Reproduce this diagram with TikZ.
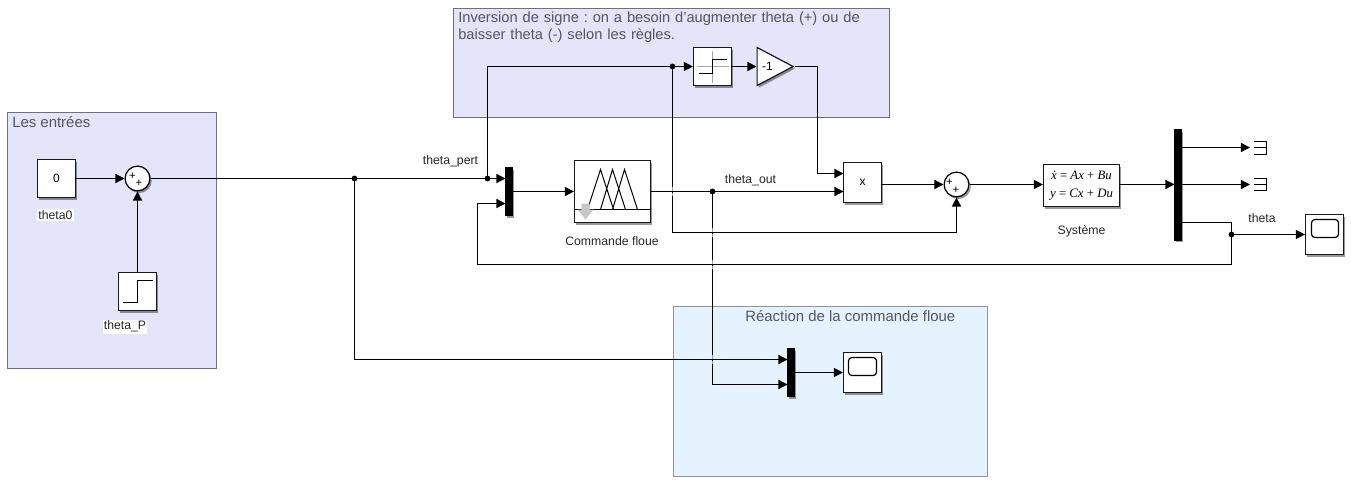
\documentclass[tikz,border=0pt]{standalone}
\usepackage{fontspec}
\setmainfont{Liberation Sans}
\newfontfamily\sysface{Liberation Serif}
\usetikzlibrary{arrows.meta,shadows,shapes.geometric,calc}
\definecolor{lav}{RGB}{228,228,251}
\definecolor{sky}{RGB}{228,243,255}
\definecolor{edgegrey}{RGB}{112,112,125}
\definecolor{edgeblue}{RGB}{140,150,160}
\definecolor{titlegrey}{RGB}{85,85,100}
\tikzset{
  panelbox/.style={draw=edgegrey,fill=lav,line width=0.9pt,inner sep=0pt},
  blockshadow/.style={drop shadow={shadow xshift=1.4pt,shadow yshift=-1.6pt,opacity=.4,fill=black}},
  blockbox/.style={draw=black!90,fill=white,line width=0.9pt,inner sep=0pt,blockshadow,font=\fontsize{9pt}{10pt}\selectfont},
  muxbar/.style={draw=black,fill=black,inner sep=0pt,minimum width=5.2pt,blockshadow},
  sumcircle/.style={circle,draw=black,fill=white,line width=0.9pt,inner sep=0pt,minimum size=18.6pt,blockshadow},
  wire/.style={draw=black,line width=0.9pt},
  arrowwire/.style={wire,-{Triangle[length=6.8pt,width=6.8pt]}},
  dotnode/.style={circle,fill=black,inner sep=0pt,minimum size=4.4pt},
  smalllabel/.style={font=\fontsize{9.2pt}{10pt}\selectfont,text=black!85,inner sep=1pt},
  paneltitle/.style={font=\fontsize{11.2pt}{12.8pt}\selectfont,text=titlegrey,inner sep=0pt},
  signmark/.style={font=\fontsize{8.5pt}{8.5pt}\selectfont,inner sep=0pt},
  glyphline/.style={draw=black,line width=0.9pt},
  fuzzyline/.style={draw=black,line width=0.75pt},
  axisline/.style={draw=black!35,line width=0.75pt},
  fadeline/.style={draw=white,line width=1.2pt,opacity=.6},
  wh/.style 2 args={minimum width=#1*0.75pt,minimum height=#2*0.75pt},
}
\frenchspacing
\begin{document}
\begin{tikzpicture}[x=0.75pt,y=-0.75pt]
\useasboundingbox (0,0) rectangle (1351,482);
\begin{scope}[shift={(0.5,0.5)}]
% panels
\draw[panelbox] (7,112) rectangle (216,368);
\draw[panelbox] (453,8) rectangle (889,117);
\draw[panelbox,draw=edgeblue,fill=sky] (673,306) rectangle (987,476);
\node[paneltitle,anchor=base west] (t1) at (11.5,127) {Les entrées};
\node[paneltitle,font=\fontsize{11pt}{12.8pt}\selectfont,anchor=north west,align=left,text width=420*0.75pt] (t2) at (457.5,11) {Inversion de signe : on a besoin d'augmenter theta (+) ou de\\baisser theta (-) selon les règles.};
\node[paneltitle,anchor=base west] (t3) at (744.5,321) {Réaction de la commande floue};

% blocks
\node[blockbox,wh={38}{38}] (const) at (56,178) {0};
\node[blockbox,wh={38}{38}] (step) at (137,291) {};
\node[sumcircle] (sumA) at (137,178) {};
\node[muxbar,minimum height=36pt] (muxA) at (508.5,191) {};
\node[blockbox,wh={76}{62}] (fuzzy) at (612,191) {};
\node[blockbox,wh={38}{38}] (sat) at (712,66) {};
\node[isosceles triangle,isosceles triangle stretches,draw=black!90,fill=white,line width=0.9pt,inner sep=0pt,minimum width=28.5pt,minimum height=27pt,blockshadow,anchor=lower side] (gain) at (756,66) {};
\node[blockbox,wh={38}{40}] (prod) at (862,182) {x};
\node[sumcircle] (sumB) at (956,184) {};
\node[blockbox,wh={76}{42},font=\sysface\fontsize{9.6pt}{13.5pt}\selectfont,align=center] (sys) at (1081,185) {\textit{\.x} = \textit{Ax} + \textit{Bu}\\\textit{y} = \textit{Cx} + \textit{Du}};
\node[muxbar,minimum height=83pt] (muxB) at (1177.5,184.5) {};
\node[blockbox,wh={38}{40}] (scopeA) at (1324,234) {};
\node[muxbar,minimum height=36pt] (muxC) at (790.5,372) {};
\node[blockbox,wh={38}{40}] (scopeB) at (862,372) {};
\node[signmark] (sumAp) at (132,176) {+};
\node[signmark] (sumAq) at (138.5,183) {+};
\node[signmark] (sumBp) at (949,182) {+};
\node[signmark] (sumBq) at (955.5,190) {+};

% terminators
\node[inner sep=0pt,minimum width=10.5pt,minimum height=10pt] (termA) at (1260,147) {};
\node[inner sep=0pt,minimum width=10.5pt,minimum height=10pt] (termB) at (1260,184) {};
\draw[glyphline] (1253,141) -| (1266,154) -- (1253,154) (1253,147) -- (1266,147);
\draw[glyphline] (1253,178) -| (1266,190) -- (1253,190) (1253,184) -- (1266,184);

% block glyphs
\draw[glyphline] (step.center) ++(-15,11) -- ++(15,0) -- ++(0,-22) -- ++(15,0);
\draw[axisline] (sat.center) ++(0,-16) -- ++(0,32) (sat.center) ++(-16,0) -- ++(32,0);
\draw[glyphline] (sat.center) ++(-14,7) -- ++(14,0) -- ++(0,-14) -- ++(14,0);
\draw[fuzzyline] (fuzzy.west |- 0,209) -- (fuzzy.east |- 0,209);
\draw[fuzzyline] (587,209) -- (600,169) -- (613,209) (600,209) -- (612,169) -- (625,209) (612,209) -- (624,169) -- (637,209);
\fill[black!22] (581,203) -- (589,203) -- (589,209) -- (593,209) -- (585,219) -- (577,209) -- (581,209) -- cycle;
\draw[black,line width=0.9pt,rounded corners=2.5pt] (1311,219) rectangle (1338,237);
\draw[black,line width=0.9pt,rounded corners=2.5pt] (848,357) rectangle (876,375);

% junctions and corners
\coordinate (pertTop) at (487,66);
\node[dotnode] (jInv) at (487,178) {};
\node[dotnode] (jMain) at (354,178) {};
\node[dotnode] (jSat) at (672,66) {};
\node[dotnode] (jOut) at (712,191) {};
\node[dotnode] (jTheta) at (1231,234) {};
\coordinate (muxAin2) at (505,203);
\coordinate (muxAin1) at (505,178);
\coordinate (prodIn1) at (843,173);
\coordinate (prodIn2) at (843,191);
\coordinate (muxCin1) at (787,359);
\coordinate (muxCin2) at (787,384);
\coordinate (sysOutR) at (1174,184);
\coordinate (muxBout1) at (1181,147);
\coordinate (muxBout2) at (1181,184);
\coordinate (muxBout3) at (1181,222);
\coordinate (termAin) at (1249.5,147);
\coordinate (termBin) at (1249.5,184);

% connectors
\draw[arrowwire] (const.east) -- (sumA.west);
\draw[arrowwire] (step.north) -- (sumA.south);
\draw[wire] (sumA.east) -- (jMain.center);
\draw[wire] (jMain.center) -- (jInv.center);
\draw[arrowwire] (jInv.center) -- (muxAin1);
\draw[wire] (jInv.center) -- (pertTop) -- (jSat.center);
\draw[arrowwire] (jSat.center) -- (sat.west);
\draw[arrowwire] (sat.east) -- (gain.lower side);
\draw[arrowwire] (gain.apex) -- (817,66) |- (prodIn1);
\draw[arrowwire] (muxA.east |- fuzzy.west) -- (fuzzy.west);
\draw[wire] (fuzzy.east) -- (jOut.center);
\draw[arrowwire] (jOut.center) -- (prodIn2);
\draw[arrowwire] (jOut.center) |- (muxCin2);
\draw[arrowwire] (jMain.center) |- (muxCin1);
\draw[arrowwire] (jSat.center) |- (956,232) -- (sumB.south);
\draw[arrowwire] (prod.east |- sumB.west) -- (sumB.west);
\draw[arrowwire] (sumB.east) -- (sys.west |- sumB.east);
\draw[arrowwire] (sys.east |- sysOutR) -- (sysOutR);
\draw[arrowwire] (muxBout1) -- (termAin);
\draw[arrowwire] (muxBout2) -- (termBin);
\draw[wire] (muxBout3) -| (jTheta.center);
\draw[arrowwire] (jTheta.center) -- (scopeA.west);
\draw[arrowwire] (jTheta.center) |- (477,264) |- (muxAin2);
\draw[arrowwire] (muxC.east) -- (scopeB.west);
\node[font=\fontsize{9pt}{10pt}\selectfont,inner sep=0pt] (gainlabel) at (767,66) {-1};

% faded stretches where wires cross
\foreach \cx/\cy in {712/232,712/264,712/359,672/191}{
  \draw[fadeline] (\cx,\cy-4.5) -- (\cx,\cy-1);
  \draw[fadeline] (\cx,\cy+1) -- (\cx,\cy+4.5);
}

% labels
\node[smalllabel,fill=white] (lconst) at (55,214.5) {theta0};
\node[smalllabel,fill=white] (lstep) at (124.5,326) {theta\_P};
\node[smalllabel] (lpert) at (450,161) {theta\_pert};
\node[smalllabel] (lout) at (750,180) {theta\_out};
\node[smalllabel] (ltheta) at (1261.5,218) {theta};
\node[smalllabel] (lfuzzy) at (611.5,241) {Commande floue};
\node[smalllabel] (lsys) at (1081,231) {Système};
\end{scope}
\end{tikzpicture}
\end{document}
